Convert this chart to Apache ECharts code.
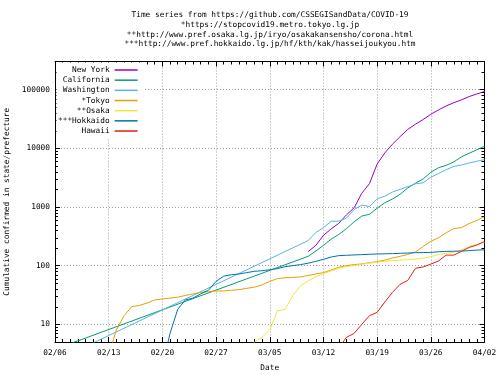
<!DOCTYPE html>
<html><head><meta charset="utf-8">
<script src="https://cdn.jsdelivr.net/npm/echarts@6/dist/echarts.min.js"></script>
<style>html,body{margin:0;padding:0;background:#fff}#c{width:500px;height:375px}</style>
</head><body><div id="c"></div>
<script>
// ---- data (day index: 0 = 02/06/2020) ----
const titleLines = [
  'Time series from https://github.com/CSSEGISandData/COVID-19',
  '*https://stopcovid19.metro.tokyo.lg.jp',
  '**http://www.pref.osaka.lg.jp/iryo/osakakansensho/corona.html',
  '***http://www.pref.hokkaido.lg.jp/hf/kth/kak/hasseijoukyou.htm'
];
const xTickLabels = ['02/06','02/13','02/20','02/27','03/05','03/12','03/19','03/26','04/02'];
const yTickLabels = ['10','100','1000','10000','100000'];
const yMinorTicks = [6,7,8,9,20,30,40,50,60,70,80,90,200,300,400,500,600,700,800,900,
  2000,3000,4000,5000,6000,7000,8000,9000,20000,30000,40000,50000,60000,70000,80000,90000,200000];
const seriesNames = ['New York','California','Washington','*Tokyo','**Osaka','***Hokkaido','Hawaii'];

const newYorkStart = 33;
const newYork = [173,220,328,421,525,732,967,1706,2495,5365,8310,11710,15800,20884,25681,30841,37877,44876,52410,59648,66663,75833,83948,92506];

const californiaEarly = [[-12, 1]];
const californiaStart = 33;
const california = [144,177,221,282,340,426,557,698,751,952,1177,1364,1642,2108,2538,2998,3899,4657,5095,5852,7138,8210,9399,10773];

const washingtonEarly = [[-6, 1]];
const washingtonStart = 33;
const washington = [267,366,442,568,572,643,904,1076,1014,1376,1524,1793,1996,2221,2469,2580,3207,3700,4300,4896,5179,5608,6000,6389];

const tokyoStart = 7;
const tokyo = [3,8,14,20,21,23,26,27,28,29,31,33,35,36,37,37,38,39,41,43,47,54,60,62,63,64,68,72,76,84,94,100,104,107,112,117,124,135,144,155,171,212,259,299,362,430,443,521,587,684];

const osakaStart = 24;
const osaka = [1,3,5,6,8,17,18,31,45,55,64,73,81,90,96,100,106,110,114,119,122,124,126,130,134,142,154,162,170,185,213,230,243];

const hokkaidoStart = 13;
const hokkaido = [1,2,7,18,26,28,33,38,54,66,70,72,76,80,82,85,89,96,100,104,110,118,128,140,148,150,152,154,156,158,159,160,162,164,166,167,168,172,175,176,177,180,184,186];

const hawaiiStart = 36;
const hawaii = [2,4,6,7,10,14,16,24,35,48,56,90,95,106,120,151,151,175,204,224,258];

// ---- build ----
const daily = (start, vals) => vals.map((v, i) => [start + i, v]);
const seriesData = [
  daily(newYorkStart, newYork),
  californiaEarly.concat(daily(californiaStart, california)),
  washingtonEarly.concat(daily(washingtonStart, washington)),
  daily(tokyoStart, tokyo),
  daily(osakaStart, osaka),
  daily(hokkaidoStart, hokkaido),
  daily(hawaiiStart, hawaii)
];
const colors = ['#9400d3','#009e73','#56b4e9','#e69f00','#f0e442','#0072b2','#e51e10'];
const FONT = 'DejaVu Sans Mono';
const FS = 7.8;
const xMax = (xTickLabels.length - 1) * 7;

const chart = echarts.init(document.getElementById('c'), null, {renderer: 'canvas'});
const gridLine = {show: true, lineStyle: {color: '#a0a0a0', width: 1, type: [1, 2]}};
const baseX = {
  type: 'value', min: 0, max: xMax, interval: 7,
  axisLine: {show: true, onZero: false, lineStyle: {color: '#000', width: 1}},
  axisTick: {show: true, inside: true, length: 5, lineStyle: {color: '#000'}},
  minorTick: {show: true, splitNumber: 7, length: 3, lineStyle: {color: '#000'}},
};
const baseY = {
  type: 'log', logBase: 10, min: 5, max: 300000,
  axisLine: {show: true, onZero: false, lineStyle: {color: '#000', width: 1}},
  axisTick: {show: true, inside: true, length: 5, lineStyle: {color: '#000'}},
};

const series = seriesNames.map((name, i) => ({
  name, type: 'line', data: seriesData[i], symbol: 'none', showSymbol: false,
  xAxisIndex: 0, yAxisIndex: 0, clip: true, z: 2,
  lineStyle: {color: colors[i], width: 1}, itemStyle: {color: colors[i]}
}));
series.push({
  type: 'custom', silent: true, z: 3, clip: false, xAxisIndex: 0, yAxisIndex: 0,
  data: yMinorTicks.map(v => [0, v]),
  renderItem: (params, api) => {
    const v = api.value(1);
    const l = api.coord([0, v]);
    const r = api.coord([xMax, v]);
    const y = Math.round(l[1]) + 0.5;
    return {type: 'group', children: [
      {type: 'line', shape: {x1: l[0], y1: y, x2: l[0] + 3, y2: y}, style: {stroke: '#000', lineWidth: 1}},
      {type: 'line', shape: {x1: r[0] - 3, y1: y, x2: r[0], y2: y}, style: {stroke: '#000', lineWidth: 1}}
    ]};
  }
});

chart.setOption({
  animation: false,
  backgroundColor: '#fff',
  title: {
    text: titleLines.join('\n'), left: 270, top: 10, padding: 0, textAlign: 'center',
    textStyle: {fontFamily: FONT, fontSize: FS, fontWeight: 'normal', color: '#000', lineHeight: 9.8}
  },
  grid: {left: 55, right: 15.5, top: 61.5, bottom: 33, containLabel: false, outerBoundsMode: 'none'},
  legend: {
    data: seriesNames, orient: 'vertical', align: 'right', left: 56.5, top: 62.5,
    padding: [2.5, 5, 2, 1.5], itemGap: 0.17, itemWidth: 23, itemHeight: 10,
    backgroundColor: '#fff', selectedMode: false,
    lineStyle: {width: 1.5},
    itemStyle: {opacity: 0, color: 'rgba(0,0,0,0)', borderWidth: 0},
    textStyle: {fontFamily: FONT, fontSize: FS, color: '#000', lineHeight: 10}
  },
  xAxis: [
    Object.assign({}, baseX, {
      position: 'bottom', splitLine: gridLine,
      axisLabel: {show: true, margin: 7.3, color: '#000', fontFamily: FONT, fontSize: FS, lineHeight: 8,
        formatter: v => xTickLabels[Math.round(v / 7)] || ''},
      name: 'Date', nameLocation: 'middle', nameGap: 21.8,
      nameTextStyle: {fontFamily: FONT, fontSize: FS, color: '#000', lineHeight: 8}
    }),
    Object.assign({}, baseX, {position: 'top', splitLine: {show: false}, axisLabel: {show: false}})
  ],
  yAxis: [
    Object.assign({}, baseY, {
      position: 'left', splitLine: gridLine,
      axisLabel: {show: true, margin: 5, color: '#000', fontFamily: FONT, fontSize: FS,
        formatter: v => { const s = String(Math.round(v)); return yTickLabels.includes(s) ? s : ''; }},
      name: 'Cumulative confirmed in state/prefecture', nameLocation: 'middle', nameGap: 43,
      nameTextStyle: {fontFamily: FONT, fontSize: FS, color: '#000', lineHeight: 8}
    }),
    Object.assign({}, baseY, {position: 'right', splitLine: {show: false}, axisLabel: {show: false}})
  ],
  series
});
</script></body></html>
